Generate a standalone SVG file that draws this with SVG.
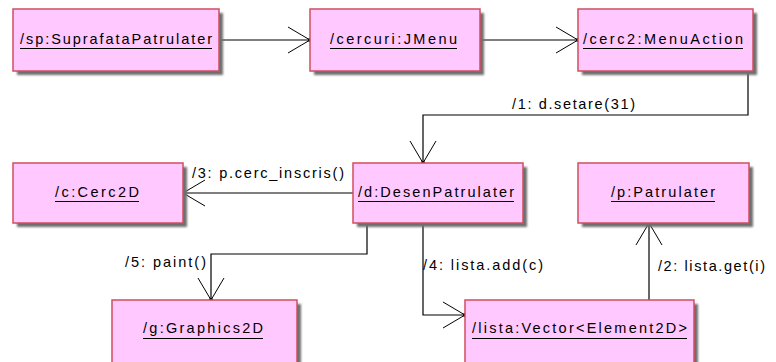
<svg xmlns="http://www.w3.org/2000/svg" width="776" height="362" viewBox="0 0 776 362">
  <defs>
    <filter id="soft" x="-10%" y="-10%" width="120%" height="130%">
      <feGaussianBlur stdDeviation="1.3"/>
    </filter>
    <marker id="open" markerUnits="userSpaceOnUse" markerWidth="30" markerHeight="30" viewBox="-25 -15 30 30" refX="0" refY="0" orient="auto">
      <path d="M-22,-13 L0,0 L-22,13" fill="none" stroke="#000" stroke-width="1"/>
      <circle cx="0" cy="0" r="2" fill="#000"/>
    </marker>
  </defs>
  <style>
    .shadow { fill: #6e6e6e; filter: url(#soft); }
    .box { fill: #ffc8ff; stroke: #cf4f5f; stroke-width: 1.5; }
    .name { font-family: "Liberation Sans", Arial, sans-serif; font-size: 14.5px; fill: #000; }
    .uline { stroke: #000; stroke-width: 1; }
    .msg { font-family: "Liberation Sans", Arial, sans-serif; font-size: 14.5px; fill: #000; }
    .link { fill: none; stroke: #000; stroke-width: 1.2; marker-end: url(#open); }
  </style>
  <rect width="776" height="362" fill="#fff"/>

  <!-- connectors and their message labels -->
  <g id="connectors">
    <path class="link" d="M219,40 H310"/>
    <path class="link" d="M480,40 H578"/>
    <path class="link" d="M748,71 V115 H423 V163"/>
    <path class="link" d="M353,193 H183"/>
    <path class="link" d="M367,223 V254 H211 V300"/>
    <path class="link" d="M423,223 V315 H465"/>
    <path class="link" d="M649,300 V223"/>
    <text class="msg" x="512" y="109" textLength="123" lengthAdjust="spacing">/1: d.setare(31)</text>
    <text class="msg" x="192" y="178" textLength="152" lengthAdjust="spacing">/3: p.cerc_inscris()</text>
    <text class="msg" x="125" y="267" textLength="81" lengthAdjust="spacing">/5: paint()</text>
    <text class="msg" x="423" y="270" textLength="120" lengthAdjust="spacing">/4: lista.add(c)</text>
    <text class="msg" x="658" y="271" textLength="107" lengthAdjust="spacing">/2: lista.get(i)</text>
  </g>

  <g id="sp">
    <rect class="shadow" x="17" y="13" width="206" height="62"/>
    <rect class="box" x="13" y="9" width="206" height="62"/>
    <text class="name" x="20" y="44" textLength="192" lengthAdjust="spacing">/sp:SuprafataPatrulater</text>
    <line class="uline" x1="20" y1="48.5" x2="212" y2="48.5"/>
  </g>
  <g id="cercuri">
    <rect class="shadow" x="314" y="13" width="170" height="62"/>
    <rect class="box" x="310" y="9" width="170" height="62"/>
    <text class="name" x="330" y="44" textLength="127" lengthAdjust="spacing">/cercuri:JMenu</text>
    <line class="uline" x1="330" y1="48.5" x2="457" y2="48.5"/>
  </g>
  <g id="cerc2">
    <rect class="shadow" x="582" y="13" width="175" height="62"/>
    <rect class="box" x="578" y="9" width="175" height="62"/>
    <text class="name" x="583" y="44" textLength="160" lengthAdjust="spacing">/cerc2:MenuAction</text>
    <line class="uline" x1="583" y1="48.5" x2="743" y2="48.5"/>
  </g>
  <g id="c">
    <rect class="shadow" x="17" y="167" width="170" height="60"/>
    <rect class="box" x="13" y="163" width="170" height="60"/>
    <text class="name" x="55" y="197" textLength="84" lengthAdjust="spacing">/c:Cerc2D</text>
    <line class="uline" x1="55" y1="201.5" x2="139" y2="201.5"/>
  </g>
  <g id="d">
    <rect class="shadow" x="357" y="167" width="170" height="60"/>
    <rect class="box" x="353" y="163" width="170" height="60"/>
    <text class="name" x="358" y="197" textLength="156" lengthAdjust="spacing">/d:DesenPatrulater</text>
    <line class="uline" x1="358" y1="201.5" x2="514" y2="201.5"/>
  </g>
  <g id="p">
    <rect class="shadow" x="582" y="167" width="171" height="60"/>
    <rect class="box" x="578" y="163" width="171" height="60"/>
    <text class="name" x="611" y="197" textLength="104" lengthAdjust="spacing">/p:Patrulater</text>
    <line class="uline" x1="611" y1="201.5" x2="715" y2="201.5"/>
  </g>
  <g id="g">
    <rect class="shadow" x="116" y="304" width="185" height="62"/>
    <rect class="box" x="112" y="300" width="185" height="64"/>
    <text class="name" x="143" y="333" textLength="120" lengthAdjust="spacing">/g:Graphics2D</text>
    <line class="uline" x1="143" y1="338.5" x2="263" y2="338.5"/>
  </g>
  <g id="lista">
    <rect class="shadow" x="469" y="304" width="229" height="62"/>
    <rect class="box" x="465" y="300" width="229" height="64"/>
    <text class="name" x="472" y="333" textLength="215" lengthAdjust="spacing">/lista:Vector&lt;Element2D&gt;</text>
    <line class="uline" x1="472" y1="338.5" x2="687" y2="338.5"/>
  </g>
</svg>
